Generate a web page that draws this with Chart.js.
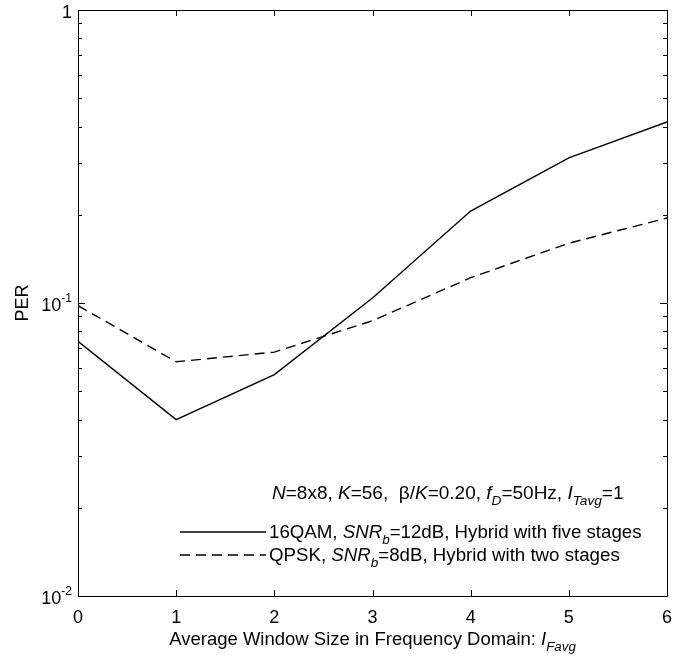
<!DOCTYPE html>
<html>
<head>
<meta charset="utf-8">
<script src="https://cdn.jsdelivr.net/npm/chart.js@4/dist/chart.umd.min.js"></script>
<style>
  html, body { margin: 0; padding: 0; background: #fff; }
  #wrap { width: 694px; height: 658px; }
</style>
</head>
<body>
<div id="wrap"><canvas id="chart" width="694" height="658"></canvas></div>
<script>
const WINDOW_SIZE = [0, 1, 2, 3, 4, 5, 6];
const PER_16QAM   = [0.074, 0.040, 0.057, 0.104, 0.206, 0.313, 0.415];
const PER_QPSK    = [0.098, 0.063, 0.068, 0.087, 0.122, 0.160, 0.195];
const X_TICKS     = [0, 1, 2, 3, 4, 5, 6];
const Y_DECADES   = [0.01, 0.1, 1];
const Y_DECADE_LABELS = [['10', '-2'], ['10', '-1'], ['1', '']];

const FONT = "'Liberation Sans', Arial, sans-serif";

// rich text: segments [text, italic, sub]
function drawRich(ctx, segs, x, y, size) {
  let cx = x;
  segs.forEach(([t, it, sub]) => {
    const s = sub ? size * 0.72 : size;
    ctx.font = `${it ? 'italic ' : ''}${s}px ${FONT}`;
    ctx.fillText(t, cx, sub ? y + size * 0.3 : y);
    cx += ctx.measureText(t).width;
  });
  return cx;
}

function richWidth(ctx, segs, size) {
  let w = 0;
  segs.forEach(([t, it, sub]) => {
    ctx.font = `${it ? 'italic ' : ''}${sub ? size * 0.72 : size}px ${FONT}`;
    w += ctx.measureText(t).width;
  });
  return w;
}

const decorPlugin = {
  id: 'decor',
  afterDraw(chart) {
    const { ctx, chartArea: a, scales: { x, y } } = chart;
    ctx.save();
    ctx.strokeStyle = '#000';
    ctx.fillStyle = '#000';
    ctx.lineWidth = 1;

    // box
    ctx.beginPath();
    ctx.rect(Math.round(a.left) + 0.5, Math.round(a.top) + 0.5,
             Math.round(a.right - a.left), Math.round(a.bottom - a.top));
    ctx.stroke();

    // x ticks (inward, bottom and top)
    ctx.beginPath();
    X_TICKS.forEach(v => {
      const px = Math.round(x.getPixelForValue(v)) + 0.5;
      ctx.moveTo(px, a.bottom); ctx.lineTo(px, a.bottom - 6);
      ctx.moveTo(px, a.top); ctx.lineTo(px, a.top + 6);
    });
    // y ticks, major and minor (inward, left and right)
    for (let d = 0; d < Y_DECADES.length; d++) {
      const base = Y_DECADES[d];
      for (let m = 1; m <= 9; m++) {
        const v = base * m;
        if (v > 1) break;
        const py = Math.round(y.getPixelForValue(v)) + 0.5;
        const len = m === 1 ? 7 : 4;
        ctx.moveTo(a.left, py); ctx.lineTo(a.left + len, py);
        ctx.moveTo(a.right, py); ctx.lineTo(a.right - len, py);
      }
    }
    ctx.stroke();

    // x tick labels
    ctx.font = `18px ${FONT}`;
    ctx.textAlign = 'center';
    ctx.textBaseline = 'alphabetic';
    X_TICKS.forEach(v => {
      ctx.fillText(String(v), x.getPixelForValue(v), a.bottom + 27);
    });

    // y tick labels with superscript exponents
    ctx.textAlign = 'left';
    Y_DECADES.forEach((v, i) => {
      const [b, e] = Y_DECADE_LABELS[i];
      const py = y.getPixelForValue(v);
      ctx.font = `18px ${FONT}`;
      const wb = ctx.measureText(b).width;
      ctx.font = `12px ${FONT}`;
      const we = e ? ctx.measureText(e).width : 0;
      const x0 = a.left - 6 - wb - we;
      ctx.font = `18px ${FONT}`;
      ctx.fillText(b, x0, py + 8);
      if (e) {
        ctx.font = `12px ${FONT}`;
        ctx.fillText(e, x0 + wb, py - 1);
      }
    });

    // axis titles
    ctx.save();
    ctx.translate(28, (a.top + a.bottom) / 2);
    ctx.rotate(-Math.PI / 2);
    ctx.textAlign = 'center';
    ctx.font = `18px ${FONT}`;
    ctx.fillText('PER', 0, 0);
    ctx.restore();

    const xt = [['Average Window Size in Frequency Domain: ', false, false],
                ['I', true, false], ['Favg', true, true]];
    ctx.textAlign = 'left';
    const w = richWidth(ctx, xt, 18.5);
    drawRich(ctx, xt, (a.left + a.right) / 2 - w / 2, a.bottom + 49, 18.5);

    // annotation + legend
    drawRich(ctx, [
      ['N', true], ['=8x8, ', false], ['K', true], ['=56,  \u03b2/', false],
      ['K', true], ['=0.20, ', false], ['f', true], ['D', true, true],
      ['=50Hz, ', false], ['I', true], ['Tavg', true, true], ['=1', false]
    ], 272, 499, 19);

    const legendY = [532, 555];
    const dashes = [[], [10, 6]];
    legendY.forEach((ly, i) => {
      ctx.setLineDash(dashes[i]);
      ctx.lineWidth = 1.3;
      ctx.beginPath();
      ctx.moveTo(180, ly); ctx.lineTo(266, ly);
      ctx.stroke();
    });
    ctx.setLineDash([]);
    drawRich(ctx, [['16QAM, ', false], ['SNR', true], ['b', true, true],
                   ['=12dB, Hybrid with five stages', false]], 269, 538, 18.7);
    drawRich(ctx, [['QPSK, ', false], ['SNR', true], ['b', true, true],
                   ['=8dB, Hybrid with two stages', false]], 269, 561, 18.7);

    ctx.restore();
  }
};

new Chart(document.getElementById('chart'), {
  type: 'line',
  data: {
    labels: WINDOW_SIZE,
    datasets: [
      {
        label: '16QAM',
        data: WINDOW_SIZE.map((v, i) => ({ x: v, y: PER_16QAM[i] })),
        borderColor: '#000',
        borderWidth: 1.4,
        pointRadius: 0,
        tension: 0,
      },
      {
        label: 'QPSK',
        data: WINDOW_SIZE.map((v, i) => ({ x: v, y: PER_QPSK[i] })),
        borderColor: '#000',
        borderWidth: 1.4,
        borderDash: [10, 6],
        pointRadius: 0,
        tension: 0,
      }
    ]
  },
  options: {
    responsive: false,
    animation: false,
    layout: { padding: { left: 78, top: 10, right: 27, bottom: 62 } },
    plugins: { legend: { display: false }, tooltip: { enabled: false } },
    scales: {
      x: { type: 'linear', min: 0, max: 6, display: false },
      y: { type: 'logarithmic', min: 0.01, max: 1, display: false }
    }
  },
  plugins: [decorPlugin]
});
</script>
</body>
</html>
